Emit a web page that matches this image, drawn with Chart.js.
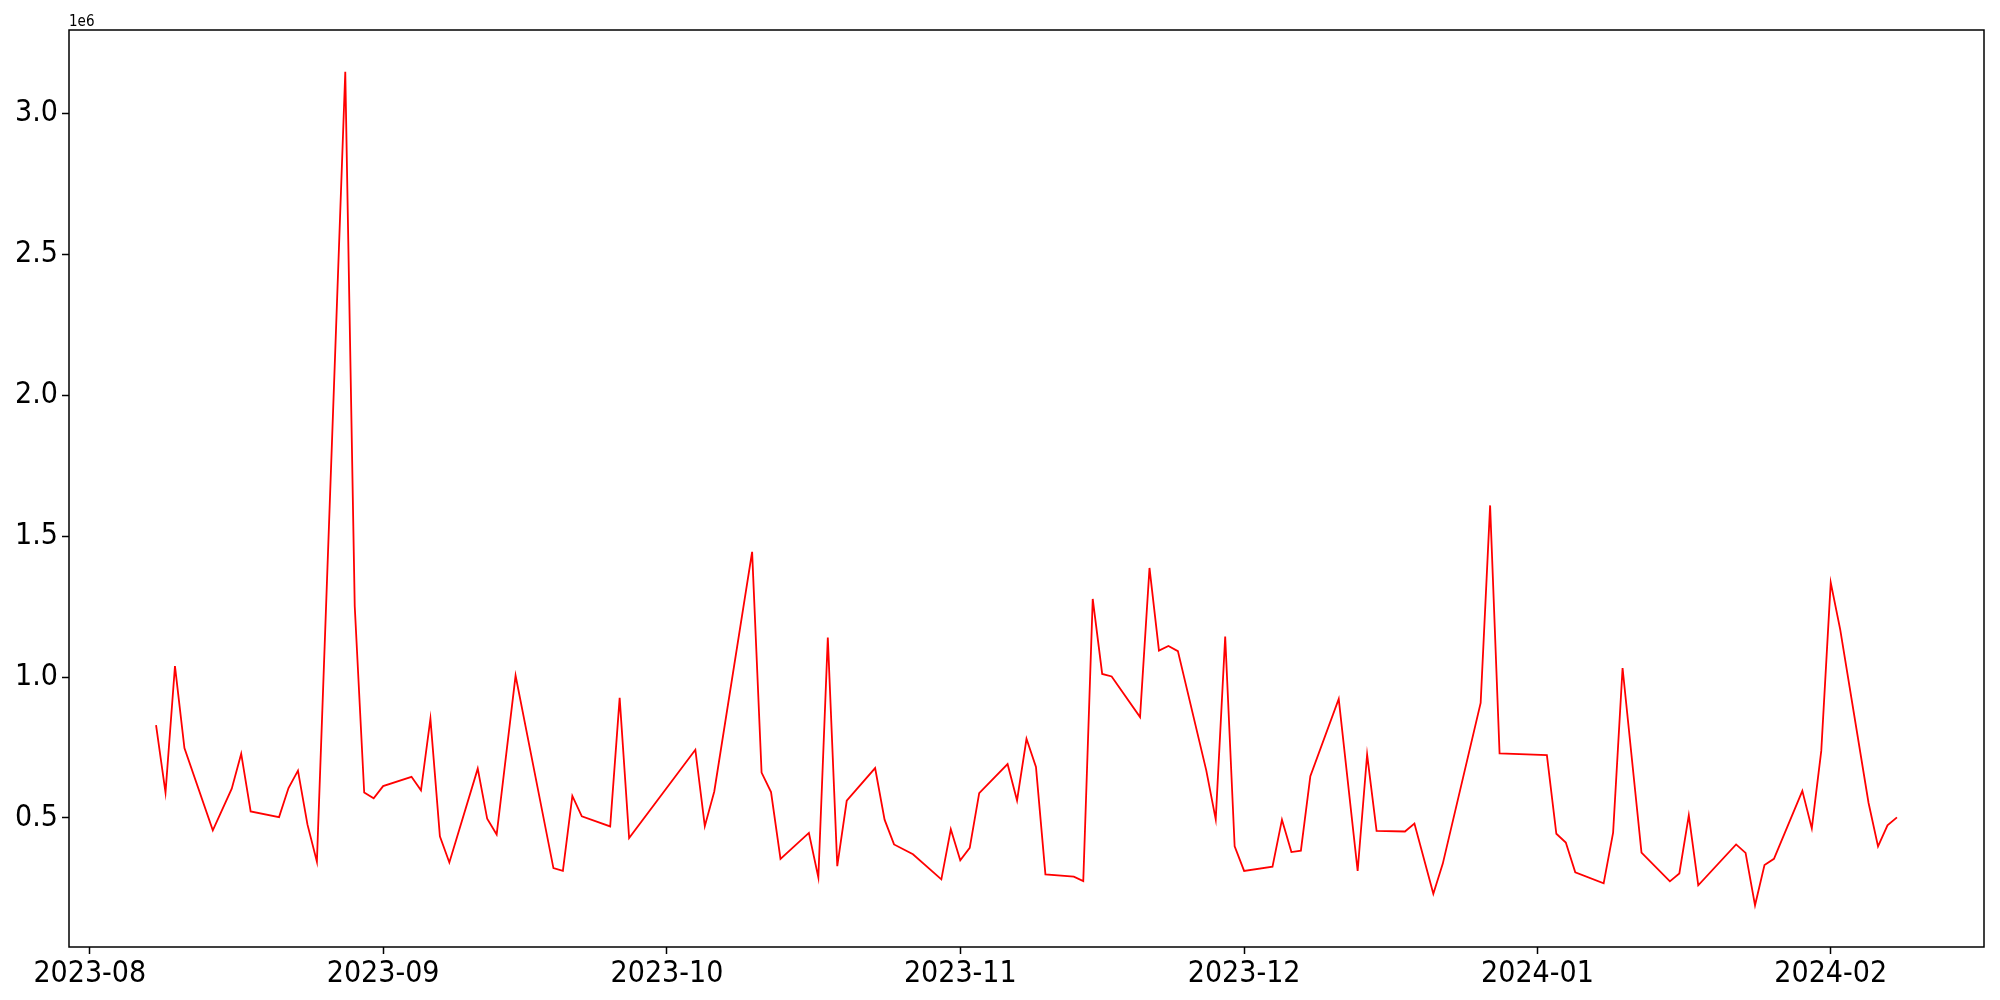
<!DOCTYPE html>
<html>
<head>
<meta charset="utf-8">
<script src="https://cdn.jsdelivr.net/npm/chart.js@4/dist/chart.umd.min.js"></script>
<style>
  body { margin: 0; background: #fff; }
  canvas { display: block; }
</style>
</head>
<body>
<canvas id="volumeCanvas" width="2000" height="1000"></canvas>
<script>
var dates = [
    '2023-08-08','2023-08-09','2023-08-10','2023-08-11','2023-08-14','2023-08-16','2023-08-17','2023-08-18',
    '2023-08-21','2023-08-22','2023-08-23','2023-08-24','2023-08-25','2023-08-28','2023-08-29','2023-08-30',
    '2023-08-31','2023-09-01','2023-09-04','2023-09-05','2023-09-06','2023-09-07','2023-09-08','2023-09-11',
    '2023-09-12','2023-09-13','2023-09-15','2023-09-19','2023-09-20','2023-09-21','2023-09-22','2023-09-25',
    '2023-09-26','2023-09-27','2023-10-04','2023-10-05','2023-10-06','2023-10-10','2023-10-11','2023-10-12',
    '2023-10-13','2023-10-16','2023-10-17','2023-10-18','2023-10-19','2023-10-20','2023-10-23','2023-10-24',
    '2023-10-25','2023-10-27','2023-10-30','2023-10-31','2023-11-01','2023-11-02','2023-11-03','2023-11-06',
    '2023-11-07','2023-11-08','2023-11-09','2023-11-10','2023-11-13','2023-11-14','2023-11-15','2023-11-16',
    '2023-11-17','2023-11-20','2023-11-21','2023-11-22','2023-11-23','2023-11-24','2023-11-27','2023-11-28',
    '2023-11-29','2023-11-30','2023-12-01','2023-12-04','2023-12-05','2023-12-06','2023-12-07','2023-12-08',
    '2023-12-11','2023-12-13','2023-12-14','2023-12-15','2023-12-18','2023-12-19','2023-12-21','2023-12-22',
    '2023-12-26','2023-12-27','2023-12-28','2024-01-02','2024-01-03','2024-01-04','2024-01-05','2024-01-08',
    '2024-01-09','2024-01-10','2024-01-12','2024-01-15','2024-01-16','2024-01-17','2024-01-18','2024-01-22',
    '2024-01-23','2024-01-24','2024-01-25','2024-01-26','2024-01-29','2024-01-30','2024-01-31','2024-02-01',
    '2024-02-02','2024-02-05','2024-02-06','2024-02-07','2024-02-08'
];

var volumes = [
    829000, 590000, 1039000, 748000, 456000, 604000, 728000, 523000,
    503000, 606000, 668000, 477000, 345000, 3148000, 1251000, 590000,
    570000, 613000, 646000, 598000, 852000, 435000, 342000, 675000,
    497000, 441000, 1005000, 322000, 312000, 578000, 506000, 470000,
    926000, 429000, 742000, 471000, 594000, 1444000, 661000, 592000,
    355000, 447000, 289000, 1140000, 329000, 561000, 677000, 494000,
    406000, 371000, 282000, 460000, 350000, 394000, 588000, 691000,
    562000, 781000, 681000, 300000, 292000, 276000, 1277000, 1011000,
    1002000, 858000, 1387000, 1094000, 1110000, 1092000, 669000, 495000,
    1144000, 399000, 312000, 327000, 494000, 379000, 384000, 648000,
    922000, 312000, 725000, 454000, 452000, 480000, 231000, 338000,
    908000, 1609000, 729000, 723000, 444000, 413000, 307000, 268000,
    448000, 1032000, 377000, 275000, 303000, 509000, 261000, 406000,
    376000, 190000, 333000, 355000, 596000, 463000, 738000, 1335000,
    1169000, 553000, 399000, 474000, 502000
];

var monthTicks = ['2023-08', '2023-09', '2023-10', '2023-11', '2023-12', '2024-01', '2024-02'];
var yTicks = [0.5, 1.0, 1.5, 2.0, 2.5, 3.0]; // in units of 1e6

var FONT = "'DejaVu Sans Condensed', 'DejaVu Sans', sans-serif";

var points = dates.map(function (d, i) { return { x: Date.parse(d), y: volumes[i] }; });

// matplotlib-like 5% margins
var xs = points.map(function (p) { return p.x; });
var xMin = Math.min.apply(null, xs), xMax = Math.max.apply(null, xs);
var xPad = (xMax - xMin) * 0.05;
var yMin = Math.min.apply(null, volumes), yMax = Math.max.apply(null, volumes);
var yPad = (yMax - yMin) * 0.05;

var framePlugin = {
    id: 'frame',
    afterDraw: function (chart) {
        var a = chart.chartArea, ctx = chart.ctx;
        ctx.save();
        ctx.strokeStyle = '#000';
        ctx.lineWidth = 1.5;
        ctx.strokeRect(a.left, a.top, a.right - a.left, a.bottom - a.top);
        ctx.fillStyle = '#000';
        ctx.font = '15px ' + FONT;
        ctx.textAlign = 'left';
        ctx.textBaseline = 'alphabetic';
        ctx.fillText('1e6', a.left, a.top - 4);
        ctx.restore();
    }
};

new Chart(document.getElementById('volumeCanvas'), {
    type: 'line',
    data: {
        datasets: [{
            data: points,
            borderColor: '#ff0000',
            borderWidth: 1.8,
            pointRadius: 0,
            tension: 0,
            fill: false
        }]
    },
    options: {
        responsive: false,
        animation: false,
        devicePixelRatio: 1,
        layout: { padding: { left: 0, top: 30, right: 16, bottom: 0 } },
        plugins: { legend: { display: false }, tooltip: { enabled: false } },
        scales: {
            x: {
                type: 'linear',
                min: xMin - xPad,
                max: xMax + xPad,
                border: { display: false },
                grid: { drawOnChartArea: false, drawTicks: true, tickLength: 7, tickColor: '#000', tickWidth: 1.5 },
                afterBuildTicks: function (scale) {
                    scale.ticks = monthTicks.map(function (m) {
                        var p = m.split('-');
                        return { value: Date.UTC(+p[0], +p[1] - 1, 1) };
                    });
                },
                ticks: {
                    color: '#000',
                    font: { family: FONT, size: 30 },
                    padding: 2,
                    maxRotation: 0,
                    autoSkip: false,
                    callback: function (v) {
                        var d = new Date(v);
                        var mm = d.getUTCMonth() + 1;
                        return d.getUTCFullYear() + '-' + (mm < 10 ? '0' : '') + mm;
                    }
                },
                afterFit: function (scale) { scale.height = 53; }
            },
            y: {
                min: yMin - yPad,
                max: yMax + yPad,
                border: { display: false },
                grid: { drawOnChartArea: false, drawTicks: true, tickLength: 7, tickColor: '#000', tickWidth: 1.5 },
                afterBuildTicks: function (scale) {
                    scale.ticks = yTicks.map(function (t) { return { value: t * 1e6 }; });
                },
                ticks: {
                    color: '#000',
                    font: { family: FONT, size: 30 },
                    padding: 4,
                    callback: function (v) { return (v / 1e6).toFixed(1); }
                },
                afterFit: function (scale) { scale.width = 69; }
            }
        }
    },
    plugins: [framePlugin]
});
</script>
</body>
</html>
